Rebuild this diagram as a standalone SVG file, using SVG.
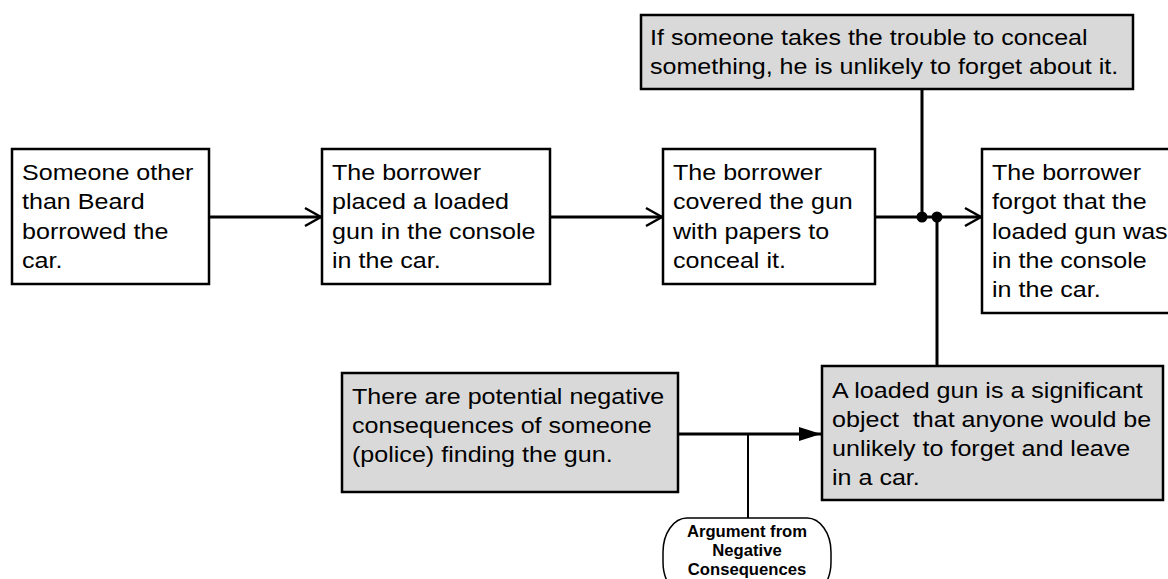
<svg xmlns="http://www.w3.org/2000/svg" width="1168" height="579" viewBox="0 0 1168 579">
<defs>
<style>
.box{fill:#ffffff;stroke:#000;stroke-width:2.5}
.gbox{fill:#d9d9d9;stroke:#000;stroke-width:2.5}
.t{font-family:"Liberation Sans",Arial,sans-serif;font-size:22.4px;fill:#000;white-space:pre}
.tb{font-family:"Liberation Sans",Arial,sans-serif;font-size:16px;font-weight:bold;fill:#000;text-anchor:middle}
.ln{stroke:#000;stroke-width:3;fill:none}
.thin{stroke:#000;stroke-width:2;fill:none}
</style>
<marker id="open" markerUnits="userSpaceOnUse" viewBox="-18 -11 20 22" markerWidth="20" markerHeight="22" refX="0" refY="0" orient="auto">
<path d="M-16,-9 L0,0 L-16,9" fill="none" stroke="#000" stroke-width="2.5"/>
</marker>
<marker id="solid" markerUnits="userSpaceOnUse" viewBox="-23 -8 24 16" markerWidth="24" markerHeight="16" refX="0" refY="0" orient="auto">
<path d="M-22,-7 L0,0 L-22,7 Z" fill="#000"/>
</marker>
</defs>
<rect width="1168" height="579" fill="#fff"/>

<g id="connectors">
<line class="ln" x1="209" y1="217" x2="321" y2="217" marker-end="url(#open)"/>
<line class="ln" x1="550" y1="217" x2="662" y2="217" marker-end="url(#open)"/>
<line class="ln" x1="875" y1="217" x2="981" y2="217" marker-end="url(#open)"/>
<line class="ln" x1="922" y1="89" x2="922" y2="217"/>
<line class="ln" x1="937" y1="217" x2="937" y2="366"/>
<circle cx="922" cy="217" r="5.5" fill="#000"/>
<circle cx="937" cy="217" r="5.5" fill="#000"/>
<line class="ln" x1="678" y1="434" x2="821" y2="434" marker-end="url(#solid)"/>
<line class="thin" x1="748" y1="434" x2="748" y2="518"/>
</g>

<g id="n1">
<rect class="box" x="12" y="149" width="197" height="135"/>
<text class="t" transform="matrix(1.12 0 0 1 22 0)"><tspan x="0" y="180">Someone other</tspan><tspan x="0" y="209.3">than Beard</tspan><tspan x="0" y="238.6">borrowed the</tspan><tspan x="0" y="268">car.</tspan></text>
</g>

<g id="n2">
<rect class="box" x="322" y="149" width="228" height="135"/>
<text class="t" transform="matrix(1.12 0 0 1 332 0)"><tspan x="0" y="180">The borrower</tspan><tspan x="0" y="209.3">placed a loaded</tspan><tspan x="0" y="238.6">gun in the console</tspan><tspan x="0" y="268">in the car.</tspan></text>
</g>

<g id="n3">
<rect class="box" x="663" y="149" width="212" height="135"/>
<text class="t" transform="matrix(1.12 0 0 1 673 0)"><tspan x="0" y="180">The borrower</tspan><tspan x="0" y="209.3">covered the gun</tspan><tspan x="0" y="238.6">with papers to</tspan><tspan x="0" y="268">conceal it.</tspan></text>
</g>

<g id="n4">
<rect class="box" x="982" y="149" width="200" height="164"/>
<text class="t" transform="matrix(1.12 0 0 1 992 0)"><tspan x="0" y="180">The borrower</tspan><tspan x="0" y="209.3">forgot that the</tspan><tspan x="0" y="238.6">loaded gun was</tspan><tspan x="0" y="267.9">in the console</tspan><tspan x="0" y="297.2">in the car.</tspan></text>
</g>

<g id="n5">
<rect class="gbox" x="641" y="15" width="492" height="74"/>
<text class="t" transform="matrix(1.12 0 0 1 650 0)"><tspan x="0" y="45.5">If someone takes the trouble to conceal</tspan><tspan x="0" y="74.5">something, he is unlikely to forget about it.</tspan></text>
</g>

<g id="n6">
<rect class="gbox" x="342" y="373" width="336" height="119"/>
<text class="t" transform="matrix(1.12 0 0 1 352 0)"><tspan x="0" y="404.3">There are potential negative</tspan><tspan x="0" y="433.3">consequences of someone</tspan><tspan x="0" y="462.3">(police) finding the gun.</tspan></text>
</g>

<g id="n7">
<rect class="gbox" x="822" y="366" width="341" height="134"/>
<text class="t" transform="matrix(1.12 0 0 1 832 0)"><tspan x="0" y="398.3">A loaded gun is a significant</tspan><tspan x="0" y="427.3">object  that anyone would be</tspan><tspan x="0" y="456.5">unlikely to forget and leave</tspan><tspan x="0" y="485.5">in a car.</tspan></text>
</g>

<g id="scheme">
<rect x="663" y="518" width="168" height="78" rx="24" ry="34" fill="#fff" stroke="#000" stroke-width="1.5"/>
<text class="tb" transform="matrix(1.04 0 0 1 747 0)"><tspan x="0" y="537.5">Argument from</tspan><tspan x="0" y="556.5">Negative</tspan><tspan x="0" y="575.5">Consequences</tspan></text>
</g>
</svg>
